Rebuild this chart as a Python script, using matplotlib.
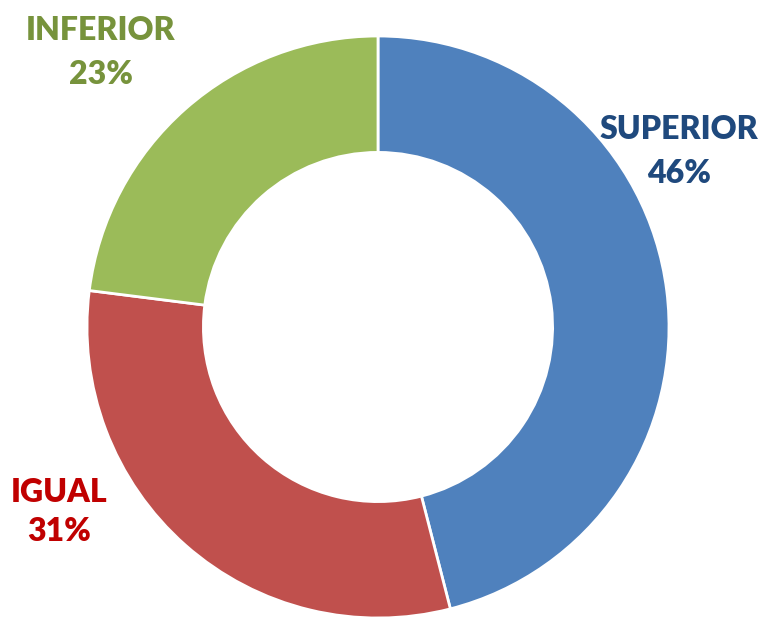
import matplotlib.pyplot as plt

# donut data
labels = ['SUPERIOR', 'IGUAL', 'INFERIOR']
values = [46, 31, 23]
colors = ['#4F81BD', '#C0504D', '#9BBB59']
label_colors = ['#1F497D', '#C00000', '#77933C']

W, H = 771, 620
fig = plt.figure(figsize=(W / 100, H / 100), dpi=100)
ax = fig.add_axes([0, 0, 1, 1])

# pixel coords, y measured from the bottom
cx, cy, r = 378, H - 327, 291
ax.pie(values, colors=colors, startangle=90, counterclock=False,
       center=(cx, cy), radius=r, frame=True,
       wedgeprops=dict(width=r * 0.4, edgecolor='white', linewidth=2))
ax.set_xlim(0, W)
ax.set_ylim(0, H)
ax.set_aspect('equal')
ax.axis('off')

# label positions (x center, caps baseline, pct baseline)
label_pos = [(679, 139, 183), (59, 502, 541), (101, 40, 84)]
for lab, v, c, (x, y1, y2) in zip(labels, values, label_colors, label_pos):
    ax.text(x, H - y1, lab, ha='center', va='baseline', color=c,
            fontsize=23, fontweight='heavy', family='Lato')
    ax.text(x, H - y2, f'{v}%', ha='center', va='baseline', color=c,
            fontsize=23, fontweight='heavy', family='Lato')

fig.savefig('out.png', dpi=100, facecolor='white')
